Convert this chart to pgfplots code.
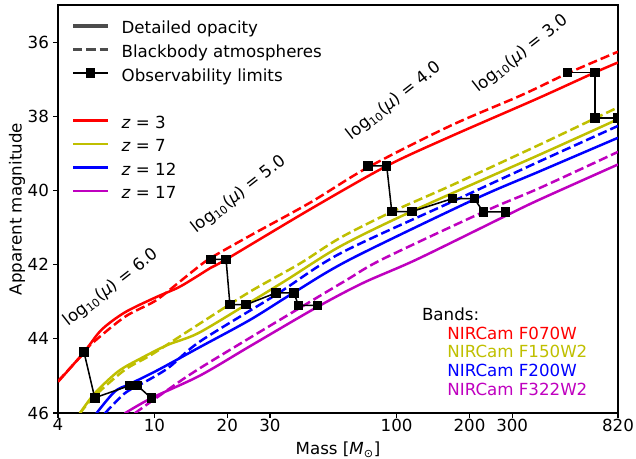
\documentclass[border=0pt]{standalone}
\usepackage{fontspec}
\setmainfont{DejaVu Sans}
\usepackage{pgfplots}
\pgfplotsset{compat=1.18}
\definecolor{mr}{rgb}{1,0,0}
\definecolor{my}{rgb}{0.75,0.75,0}
\definecolor{mb}{rgb}{0,0,1}
\definecolor{mm}{rgb}{0.75,0,0.75}
\definecolor{lgray}{rgb}{0.3,0.3,0.3}
\newcommand{\fs}{\fontsize{12}{14}\selectfont}
\newcommand{\lmu}[1]{log\textsubscript{10}(\textit{μ}) = #1}
% legend text: fixed row height and gap after the handle
\newcommand{\ls}{\hspace*{8.9pt}\rule[-4.13pt]{0pt}{17.06pt}}

\begin{document}
\begin{tikzpicture}
\useasboundingbox (-41.8pt,-33.1pt) rectangle (416.2pt,297.4pt);
\begin{axis}[
    scale only axis,
    width=403.2pt, height=293.8pt,
    at={(0,0)}, anchor=south west,
    xmode=log,
    xmin=4, xmax=820,
    ymin=35, ymax=46,
    y dir=reverse,
    xtick={4,10,20,30,100,200,300,820},
    xticklabels={4,10,20,30,100,200,300,820},
    ytick={36,38,40,42,44,46},
    yticklabels={36,38,40,42,44,46},
    xminorticks=false, yminorticks=false,
    tick align=outside,
    xtick pos=left, ytick pos=left,
    major tick length=3.5pt,
    tick style={black, line width=0.8pt},
    axis line style={line width=0.8pt},
    xticklabel style={font=\fs, anchor=north, inner sep=0pt, yshift=-0.5pt},
    yticklabel style={font=\fs, anchor=east, inner sep=0pt, xshift=-2.9pt},
    xlabel={Mass [\textit{M}\textsubscript{⊙}]},
    ylabel={Apparent magnitude},
    xlabel style={font=\fs, at={(axis description cs:0.5,-0.0905)}, anchor=center},
    ylabel style={font=\fs, at={(axis description cs:-0.0734,0.5)}, anchor=center, rotate=0},
    every axis plot/.append style={line width=1.8pt},
    clip marker paths=true,
    legend cell align=left,
    legend style={at={(axis description cs:0,1)}, anchor=north west,
        xshift=9.5pt, yshift=-7.7pt, draw=none, fill=none, font=\fs,
        inner sep=0pt, row sep=2.55pt,
        nodes={inner xsep=0pt, inner ysep=0pt}},
]
\pgfplotsset{bb/.style={dash pattern=on 6.66pt off 2.88pt}}

\addlegendimage{legend image code/.code={\draw[lgray, line width=2.2pt] (0pt,0pt) -- (25pt,0pt);}}
\addlegendentry{\ls Detailed opacity}
\addlegendimage{legend image code/.code={\draw[lgray, line width=2.2pt, dash pattern=on 6.66pt off 2.88pt] (0pt,0pt) -- (25pt,0pt);}}
\addlegendentry{\ls Blackbody atmospheres}
\addlegendimage{legend image code/.code={\draw[black, line width=1.1pt, mark=square*, mark size=2.9pt, mark repeat=2, mark phase=2] plot coordinates {(0pt,0pt) (12.5pt,0pt) (25pt,0pt)};}}
\addlegendentry{\ls Observability limits}
\addlegendimage{legend image code/.code={\draw[draw=none] (0pt,0pt) -- (25pt,0pt);}}
\addlegendentry{\ls}
\addlegendimage{legend image code/.code={\draw[mr, line width=1.8pt] (0pt,0pt) -- (25pt,0pt);}}
\addlegendentry{\ls\textit{z} = 3}
\addlegendimage{legend image code/.code={\draw[my, line width=1.8pt] (0pt,0pt) -- (25pt,0pt);}}
\addlegendentry{\ls\textit{z} = 7}
\addlegendimage{legend image code/.code={\draw[mb, line width=1.8pt] (0pt,0pt) -- (25pt,0pt);}}
\addlegendentry{\ls\textit{z} = 12}
\addlegendimage{legend image code/.code={\draw[mm, line width=1.8pt] (0pt,0pt) -- (25pt,0pt);}}
\addlegendentry{\ls\textit{z} = 17}

% z = 3
\addplot[mr, smooth, forget plot] coordinates {(4,45.16) (5.12,44.36) (6.04,43.76) (7.54,43.29) (10.06,42.89) (12.52,42.62) (14.71,42.35) (17.13,42.08) (19.76,41.86) (43.9,40.51) (91.0,39.34) (166.2,38.55) (379,37.53) (658,36.82) (820,36.55)};
\addplot[mr, bb, smooth, forget plot] coordinates {(4,45.14) (5.12,44.38) (5.49,44.14) (7.54,43.41) (10.06,42.98) (12.5,42.50) (14.71,42.13) (17.08,41.82) (24.8,41.22) (43.9,40.33) (76.0,39.38) (166.2,38.26) (328,37.43) (509,36.84) (820,36.26)};
% z = 7
\addplot[my, smooth, forget plot] coordinates {(4.92,46.01) (5.67,45.47) (7.08,44.88) (8.83,44.52) (11.38,44.16) (15.14,43.85) (23.9,43.08) (35.2,42.41) (58.4,41.51) (115.8,40.56) (391,39.03) (820,38.08)};
\addplot[my, bb, smooth, forget plot] coordinates {(4.92,46.01) (5.67,45.54) (7.54,44.84) (9.71,44.43) (15.14,43.62) (24.8,42.73) (39.9,41.97) (58.4,41.28) (96.0,40.57) (166.2,39.88) (391,38.76) (820,37.76)};
% z = 12
\addplot[mb, smooth, forget plot] coordinates {(5.76,46.01) (6.86,45.42) (7.91,45.22) (10.35,44.84) (15.14,44.25) (24.8,43.49) (37.5,42.76) (64.2,41.86) (209.4,40.24) (391,39.48) (820,38.58)};
\addplot[mb, bb, smooth, forget plot] coordinates {(6.24,46.01) (7.54,45.47) (8.70,45.24) (11.38,44.79) (15.43,44.07) (31.8,42.81) (58.4,41.70) (169.8,40.30) (391,39.21) (820,38.26)};
% z = 17
\addplot[mm, smooth, forget plot] coordinates {(7.54,46.01) (9.71,45.60) (15.43,44.99) (24.8,44.20) (47.1,43.14) (72.9,42.49) (121.1,41.86) (283,40.68) (391,40.24) (820,39.30)};
\addplot[mm, bb, smooth, forget plot] coordinates {(8.29,46.01) (10.35,45.56) (15.43,44.79) (39.3,43.19) (62.3,42.41) (87.0,41.86) (228,40.58) (391,39.93) (820,38.96)};

% observability limits
\pgfplotsset{obs/.style={black, line width=1.1pt, mark=square*, mark size=2.9pt, forget plot}}
\addplot[obs] coordinates {(5.12,44.36) (5.67,45.59) (7.91,45.26) (8.50,45.26) (9.71,45.60)};
\addplot[obs] coordinates {(17.08,41.86) (19.76,41.86) (20.5,43.08) (23.9,43.08) (31.8,42.76) (37.7,42.76) (39.3,43.10) (47.1,43.10)};
\addplot[obs] coordinates {(76.0,39.34) (91.0,39.34) (95.5,40.57) (115.5,40.57) (169.8,40.22) (209.4,40.22) (228,40.58) (282,40.58)};
\addplot[obs] coordinates {(507,36.82) (660,36.82) (660,38.05) (815,38.05)};

\node[font=\fs, rotate=38] at (axis cs:6.62,42.62) {\lmu{6.0}};
\node[font=\fs, rotate=38] at (axis cs:22.3,40.11) {\lmu{5.0}};
\node[font=\fs, rotate=38] at (axis cs:97.6,37.59) {\lmu{4.0}};
\node[font=\fs, rotate=38] at (axis cs:326,36.32) {\lmu{3.0}};

\node[font=\fs, anchor=base west, inner sep=0pt] at (axis cs:127,43.50) {Bands:};
\node[font=\fs, anchor=base west, inner sep=0pt, text=mr] at (axis cs:161.6,44.01) {NIRCam F070W};
\node[font=\fs, anchor=base west, inner sep=0pt, text=my] at (axis cs:161.6,44.51) {NIRCam F150W2};
\node[font=\fs, anchor=base west, inner sep=0pt, text=mb] at (axis cs:161.6,45.02) {NIRCam F200W};
\node[font=\fs, anchor=base west, inner sep=0pt, text=mm] at (axis cs:161.6,45.53) {NIRCam F322W2};
\end{axis}
\end{tikzpicture}
\end{document}
